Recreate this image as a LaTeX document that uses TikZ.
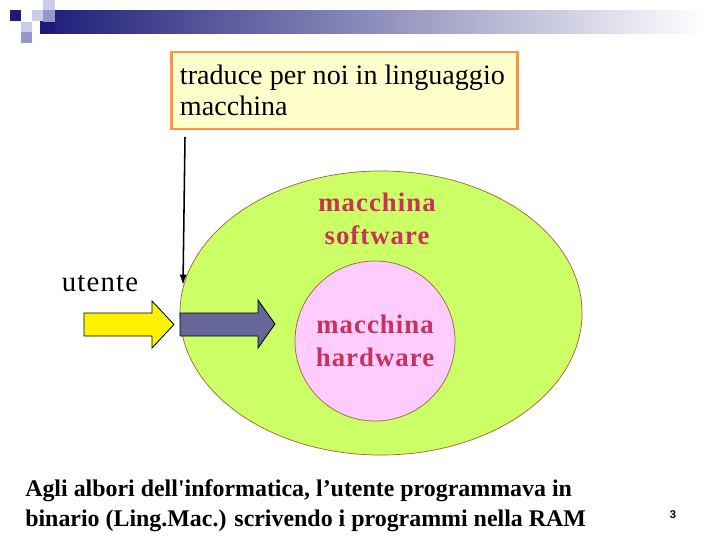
\documentclass[tikz,border=0pt]{standalone}
\usepackage{fontspec}
\setmainfont{Liberation Serif}
\newfontfamily\plainserif{Liberation Serif}
\newfontfamily\numfont{Liberation Sans}
\usetikzlibrary{shapes.geometric,arrows.meta}

\definecolor{hdnavy}{RGB}{28,28,120}
\definecolor{hdfade}{RGB}{175,175,200}
\definecolor{hdmid}{RGB}{150,150,200}
\definecolor{hdlight}{RGB}{204,204,234}
\definecolor{boxline}{RGB}{247,150,70}
\definecolor{boxfill}{RGB}{255,255,204}
\definecolor{swfill}{RGB}{204,255,102}
\definecolor{hwfill}{RGB}{255,204,255}
\definecolor{ringline}{RGB}{160,100,50}
\definecolor{labelred}{RGB}{200,50,90}
\definecolor{hwarrow}{RGB}{102,102,153}

\begin{document}
\begin{tikzpicture}[x=0.025cm, y=-0.025cm,
    ring/.style={draw=ringline, line width=0.5pt},
    lbl/.style={font=\bfseries\fontsize{19}{23.5}\selectfont\addfontfeatures{LetterSpace=4}, text=labelred, align=center},
    blockarrow/.style={draw=black, line width=0.6pt, line join=miter}]
    \useasboundingbox (0, 0) rectangle (720, 540);

    % header
    \shade[left color=hdnavy, middle color=hdfade, right color=white] (40, 10) rectangle (705, 33);
    \fill[hdnavy] (10, 10) rectangle (21, 21);
    \fill[hdlight] (21, 22) rectangle (32, 32);
    \fill[hdmid] (21, 32) rectangle (32, 43);
    \fill[hdlight] (32, 10) rectangle (43, 21);
    \fill[hdlight] (43, 0) rectangle (55, 10);
    \fill[hdmid] (43, 10) rectangle (55, 22);
    \fill[hdnavy] (43, 22) rectangle (55, 33);

    % machines
    \node[ellipse, ring, fill=swfill, minimum width=10.05cm, minimum height=7.1cm] (sw) at (381, 313) {};
    \node[lbl] (swlabel) at (377, 219) {macchina\\software};
    \node[circle, ring, fill=hwfill, minimum size=4cm, lbl] (hw) at (375, 341) {macchina\\hardware};

    % translator
    \node[draw=boxline, line width=2.1pt, fill=boxfill, minimum width=8.625cm, minimum height=1.925cm,
          inner xsep=0.2cm, text width=8.225cm, align=flush left,
          font=\fontsize{20}{22}\selectfont] (trad) at (344.5, 90.5) {traduce per noi in linguaggio\\macchina};
    \coordinate (tradfoot) at (185, 137);
    \coordinate (swdoor) at (183, 285);
    \draw[-{Latex[length=2.6mm, width=1.8mm]}, line width=1.1pt] (tradfoot) -- (swdoor);

    % user
    \node[font=\fontsize{20.5}{24}\selectfont\addfontfeatures{LetterSpace=4}] (utente) at (100, 284) {utente};
    \draw[blockarrow, fill=yellow] (84, 313) -- (152, 313) -- (152, 301) -- (174, 324.5)
        -- (152, 348) -- (152, 336) -- (84, 336) -- cycle;
    \draw[blockarrow, fill=hwarrow] (180, 313) -- (258, 313) -- (258, 300) -- (275, 324)
        -- (258, 348) -- (258, 336) -- (180, 336) -- cycle;

    % footer
    \node[anchor=west, inner sep=0pt, align=left, font=\plainserif\bfseries\fontsize{17}{21.3}\selectfont] (note) at (25, 506)
        {Agli albori dell'informatica, l’utente programmava in\\binario (Ling.Mac.) scrivendo i programmi nella RAM};
    \node[font=\numfont\bfseries\fontsize{8}{9}\selectfont] (pagenum) at (673, 515) {3};
\end{tikzpicture}
\end{document}
